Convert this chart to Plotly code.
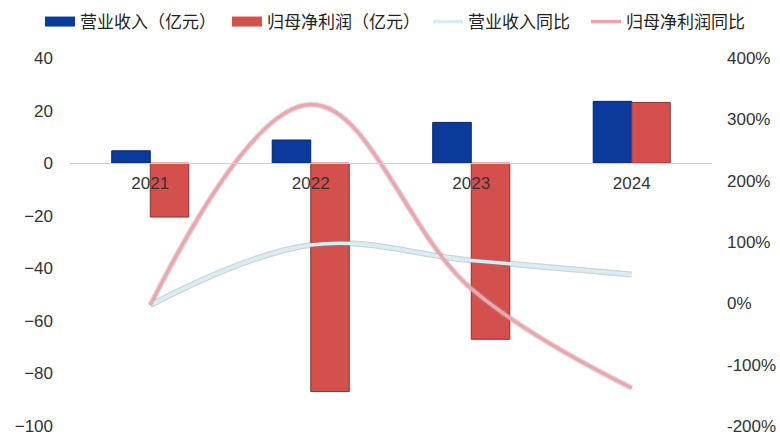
import plotly.graph_objects as go

# Annual figures
years = ["2021", "2022", "2023", "2024"]
revenue = [4.7, 8.8, 15.5, 23.5]              # 营业收入（亿元）
net_profit = [-20.5, -86.9, -67.0, 23.1]      # 归母净利润（亿元）
revenue_yoy = [-3, 95, 70, 47]                # 营业收入同比 (%)
net_profit_yoy = [-3, 324, 24, -138]          # 归母净利润同比 (%)

left_ticks = [40, 20, 0, -20, -40, -60, -80, -100]
right_ticks = [400, 300, 200, 100, 0, -100, -200]

BLUE = "#0a3a9c"
RED = "#d4504c"
CYAN = "#d6eef4"
PINK = "#f0a4ab"
FONT = "Liberation Sans, Noto Sans CJK SC, sans-serif"
TICK_FONT = dict(size=17, color="#333333")
W, H = 780, 436

fig = go.Figure()

fig.add_trace(go.Bar(
    x=years, y=revenue, name="营业收入（亿元）",
    marker=dict(color=BLUE, line=dict(color="#06246a", width=1)),
    yaxis="y", showlegend=False,
))
fig.add_trace(go.Bar(
    x=years, y=net_profit, name="归母净利润（亿元）",
    marker=dict(color=RED, line=dict(color="#8e2f2c", width=1)),
    yaxis="y", showlegend=False,
))

# wide swatches for the bar series in the legend
fig.add_trace(go.Scatter(
    x=[None], y=[None], mode="lines", name="营业收入（亿元）",
    line=dict(color=BLUE, width=10), yaxis="y", legend="legend",
))
fig.add_trace(go.Scatter(
    x=[None], y=[None], mode="lines", name="归母净利润（亿元）",
    line=dict(color=RED, width=10), yaxis="y", legend="legend2",
))

# soft halos beneath the growth lines
fig.add_trace(go.Scatter(
    x=years, y=revenue_yoy, mode="lines", yaxis="y2",
    line=dict(color="rgba(120,130,140,0.35)", width=6, shape="spline", smoothing=1.1),
    showlegend=False, hoverinfo="skip",
))
fig.add_trace(go.Scatter(
    x=years, y=net_profit_yoy, mode="lines", yaxis="y2",
    line=dict(color="rgba(150,170,170,0.35)", width=6, shape="spline", smoothing=1.1),
    showlegend=False, hoverinfo="skip",
))
fig.add_trace(go.Scatter(
    x=years, y=revenue_yoy, mode="lines", name="营业收入同比", yaxis="y2",
    line=dict(color=CYAN, width=3.5, shape="spline", smoothing=1.1),
    legend="legend3",
))
fig.add_trace(go.Scatter(
    x=years, y=net_profit_yoy, mode="lines", name="归母净利润同比", yaxis="y2",
    line=dict(color=PINK, width=3.5, shape="spline", smoothing=1.1),
    legend="legend4",
))

zero_pos = 1 - 40 / 140  # paper fraction where the left axis reads 0


def legend_at(px):
    return dict(
        orientation="h", x=px / W, xref="container", xanchor="left",
        y=1 - 22 / H, yref="container", yanchor="middle",
        font=dict(size=17, color="#222222"),
        itemwidth=30, bgcolor="rgba(0,0,0,0)", borderwidth=0,
    )


fig.update_layout(
    width=W, height=H,
    margin=dict(l=70, r=68, t=58, b=10, autoexpand=False),
    paper_bgcolor="white", plot_bgcolor="white",
    font=dict(family=FONT, size=17, color="#333333"),
    barmode="group", bargap=0.52, bargroupgap=0,
    showlegend=True,
    legend=legend_at(40),
    legend2=legend_at(227),
    legend3=legend_at(428),
    legend4=legend_at(586),
    xaxis=dict(
        type="category", anchor="free", position=zero_pos,
        showline=True, linecolor="#d0d0d0", linewidth=1,
        ticks="", showgrid=False, zeroline=False,
        tickfont=TICK_FONT, automargin=False,
        ticklabelstandoff=4,
    ),
    yaxis=dict(
        range=[-100, 40], tickvals=left_ticks,
        showgrid=False, zeroline=False, showline=False,
        tickfont=TICK_FONT, ticklabeloverflow="allow", automargin=False,
        ticklabelstandoff=16,
    ),
    yaxis2=dict(
        range=[-200, 400], tickvals=right_ticks,
        ticktext=[f"{v}%" for v in right_ticks],
        overlaying="y", side="right",
        showgrid=False, zeroline=False, showline=False,
        tickfont=TICK_FONT, ticklabeloverflow="allow", automargin=False,
        ticklabelstandoff=14,
    ),
)

fig.write_html("out.html")
